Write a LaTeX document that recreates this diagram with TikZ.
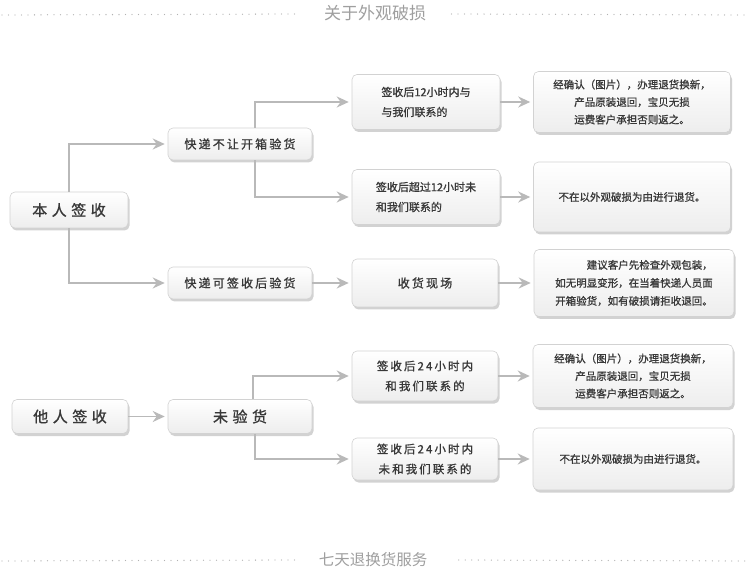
\documentclass[tikz,border=0pt]{standalone}
\usepackage{fontspec}
\newfontfamily\cjk{Noto Sans CJK SC}
\newfontfamily\cjkb[FakeBold=1]{Noto Sans CJK SC}
\newfontfamily\cjkwide[LetterSpace=30,FakeBold=1.2]{Noto Sans CJK SC}
\newfontfamily\cjkmid[LetterSpace=18,FakeBold=1]{Noto Sans CJK SC}
\usetikzlibrary{arrows.meta,shadows}
\tikzset{
  box/.style={rounded corners=5pt, draw=gray!35, line width=0.6pt,
    top color=white, bottom color=gray!14,
    drop shadow={shadow xshift=1.5pt, shadow yshift=-2.5pt, fill=gray!70, opacity=0.5},
    text=black!78, inner sep=2pt, align=center},
  bigtxt/.style={font=\cjkwide\fontsize{15}{18}\selectfont},
  midtxt/.style={font=\cjkmid\fontsize{12}{15}\selectfont},
  smalltxt/.style={font=\cjkb\fontsize{11}{20}\selectfont},
  righttxt/.style={font=\cjkb\fontsize{10.5}{18}\selectfont},
  arr/.style={draw=gray!55, line width=1.8pt, shorten >=3pt,
    -{Stealth[length=12pt,width=11pt,inset=4pt]}},
  dotline/.style={draw=gray!60, line width=1.3pt, line cap=round, dash pattern=on 0pt off 6.5pt},
  heading/.style={text=gray!75}
}
\begin{document}
\begin{tikzpicture}[x=1pt,y=-1pt]
\useasboundingbox (0,0) rectangle (750,577);
\fill[white] (0,0) rectangle (750,577);

% headings
\node[heading, font=\cjk\fontsize{17}{20}\selectfont] (title) at (375,13) {关于外观破损};
\node[heading, font=\cjk\fontsize{15.5}{18}\selectfont] (foot) at (373,560) {七天退换货服务};
\coordinate (tl) at (2,15);
\coordinate (tr) at (748,15);
\coordinate (fl) at (2,561);
\coordinate (fr) at (748,561);
\draw[dotline] (tl) -- ([xshift=-22pt,yshift=-1pt]title.west);
\draw[dotline] ([xshift=22pt,yshift=-1pt]title.east) -- (tr);
\draw[dotline] (fl) -- ([xshift=-20pt,yshift=0pt]foot.west);
\draw[dotline] ([xshift=28pt,yshift=0pt]foot.east) -- (fr);

% left column
\node[box, bigtxt, minimum width=118pt, minimum height=36pt] (self) at (69,210) {本人签收};
\node[box, bigtxt, minimum width=116pt, minimum height=34pt] (other) at (70,416.5) {他人签收};

% second column
\node[box, midtxt, minimum width=144pt, minimum height=32pt] (nb) at (240,144) {快递不让开箱验货};
\node[box, midtxt, minimum width=144pt, minimum height=32pt] (kb) at (240,283) {快递可签收后验货};
\node[box, bigtxt, minimum width=144pt, minimum height=34pt] (wy) at (240,416.5) {未验货};

% third column
\node[box, smalltxt, minimum width=148pt, minimum height=55pt, align=left] (c1) at (426,102) {签收后12小时内与\\与我们联系的};
\node[box, smalltxt, minimum width=148pt, minimum height=55pt, align=left] (c2) at (426,197) {签收后超过12小时未\\和我们联系的};
\node[box, font=\cjkmid\fontsize{12}{15}\selectfont, minimum width=146pt, minimum height=48pt] (c3) at (425,283) {收货现场};
\node[box, font=\cjkmid\fontsize{11.5}{20}\selectfont, minimum width=146pt, minimum height=50pt] (c4) at (425,376) {签收后24小时内\\和我们联系的};
\node[box, font=\cjkmid\fontsize{11.5}{20}\selectfont, minimum width=146pt, minimum height=42pt] (c5) at (425,459) {签收后24小时内\\未和我们联系的};

% right column
\node[box, minimum width=197pt, minimum height=61pt, font=\cjkb\fontsize{10.5}{17.5}\selectfont] (r1) at (632,102) {经确认（图片），办理退货换新，\\产品原装退回，宝贝无损\\运费客户承担否则返之。};
\node[box, righttxt, minimum width=197pt, minimum height=70pt] (r2) at (632,197) {不在以外观破损为由进行退货。};
\node[box, righttxt, minimum width=200pt, minimum height=67pt, align=right] (r3) at (634,283) {建议客户先检查外观包装，\\如无明显变形，在当着快递人员面\\开箱验货，如有破损请拒收退回。};
\node[box, minimum width=200pt, minimum height=63pt, font=\cjkb\fontsize{10.5}{17.5}\selectfont] (r4) at (633,376) {经确认（图片），办理退货换新，\\产品原装退回，宝贝无损\\运费客户承担否则返之。};
\node[box, righttxt, minimum width=200pt, minimum height=62pt] (r5) at (633,459) {不在以外观破损为由进行退货。};

% connectors
\draw[arr] (self.north) |- (nb.west);
\draw[arr] (self.south) |- (kb.west);
\draw[arr] ([xshift=15pt]nb.north) |- (c1.west);
\draw[arr] ([xshift=15pt]nb.south) |- (c2.west);
\draw[arr] (kb.east) -- (c3.west);
\draw[arr] (other.east) -- (wy.west);
\draw[arr] ([xshift=13pt]wy.north) |- (c4.west);
\draw[arr] ([xshift=15pt]wy.south) |- (c5.west);
\draw[arr] (c1.east) -- (r1.west);
\draw[arr] (c2.east) -- (r2.west);
\draw[arr] (c3.east) -- (r3.west);
\draw[arr] (c4.east) -- (r4.west);
\draw[arr] (c5.east) -- (r5.west);
\end{tikzpicture}
\end{document}
